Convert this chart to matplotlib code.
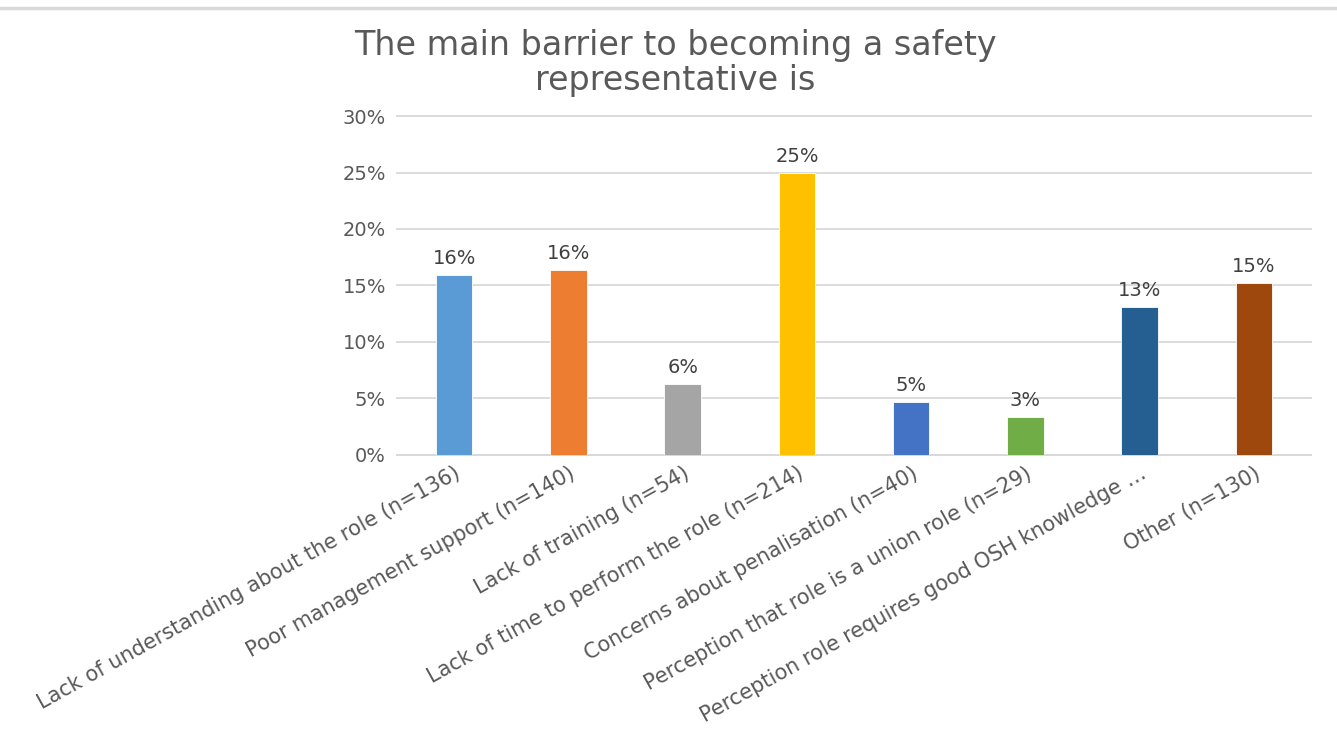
import matplotlib.pyplot as plt
from matplotlib.lines import Line2D
from matplotlib.ticker import PercentFormatter

# --- Data ---
categories = [
    "Lack of understanding about the role (n=136)",
    "Poor management support (n=140)",
    "Lack of training (n=54)",
    "Lack of time to perform the role (n=214)",
    "Concerns about penalisation (n=40)",
    "Perception that role is a union role (n=29)",
    "Perception role requires good OSH knowledge \u2026",
    "Other (n=130)",
]
shares = [0.159, 0.164, 0.063, 0.250, 0.047, 0.034, 0.131, 0.152]
bar_colors = ["#5B9BD5", "#ED7D31", "#A5A5A5", "#FFC000",
              "#4472C4", "#70AD47", "#255E91", "#9E480E"]

title = "The main barrier to becoming a safety\nrepresentative is"
y_ticks = [0.0, 0.05, 0.10, 0.15, 0.20, 0.25, 0.30]

# --- Style ---
plt.rcParams['font.family'] = ['DejaVu Sans']
text_grey = "#595959"
label_grey = "#404040"
grid_grey = "#D9D9D9"

fig = plt.figure(figsize=(13.37, 7.31), dpi=100)
ax = fig.add_axes([0.297, 0.3776, 0.6836, 0.4637])

x = range(len(categories))
bars = ax.bar(x, shares, width=0.32, color=bar_colors,
              edgecolor="white", linewidth=0.6, zorder=3)

# value labels above each bar
for rect, val in zip(bars, shares):
    ax.annotate(f"{val * 100:.0f}%",
                xy=(rect.get_x() + rect.get_width() / 2, val),
                xytext=(0, 5), textcoords="offset points",
                ha="center", va="bottom", fontsize=14, color=label_grey)

ax.set_xlim(-0.5, len(categories) - 0.5)
ax.set_ylim(0, 0.30)
ax.set_yticks(y_ticks)
ax.yaxis.set_major_formatter(PercentFormatter(1.0, decimals=0))
ax.grid(axis="y", color=grid_grey, linewidth=1.3, zorder=0)
ax.set_axisbelow(True)
for gl in ax.get_ygridlines():
    gl.set_clip_on(False)

for side in ["top", "right", "left"]:
    ax.spines[side].set_visible(False)
ax.spines["bottom"].set_color(grid_grey)
ax.spines["bottom"].set_linewidth(1.3)

ax.tick_params(axis="y", length=0, pad=8, labelsize=14, labelcolor=text_grey)
ax.tick_params(axis="x", length=0, pad=6)
ax.set_xticks(list(x))
ax.set_xticklabels(categories, rotation=29, ha="right", va="top",
                   rotation_mode="anchor", fontsize=15, color=text_grey)

fig.text(0.505, 0.96, title, ha="center", va="top", fontsize=24,
         color=text_grey, linespacing=1.05)

# thin frame line across the top
fig.add_artist(Line2D([0, 1], [0.989, 0.989], transform=fig.transFigure,
                      color=grid_grey, linewidth=2.5))

fig.savefig("out.png", dpi=100, facecolor="white")
